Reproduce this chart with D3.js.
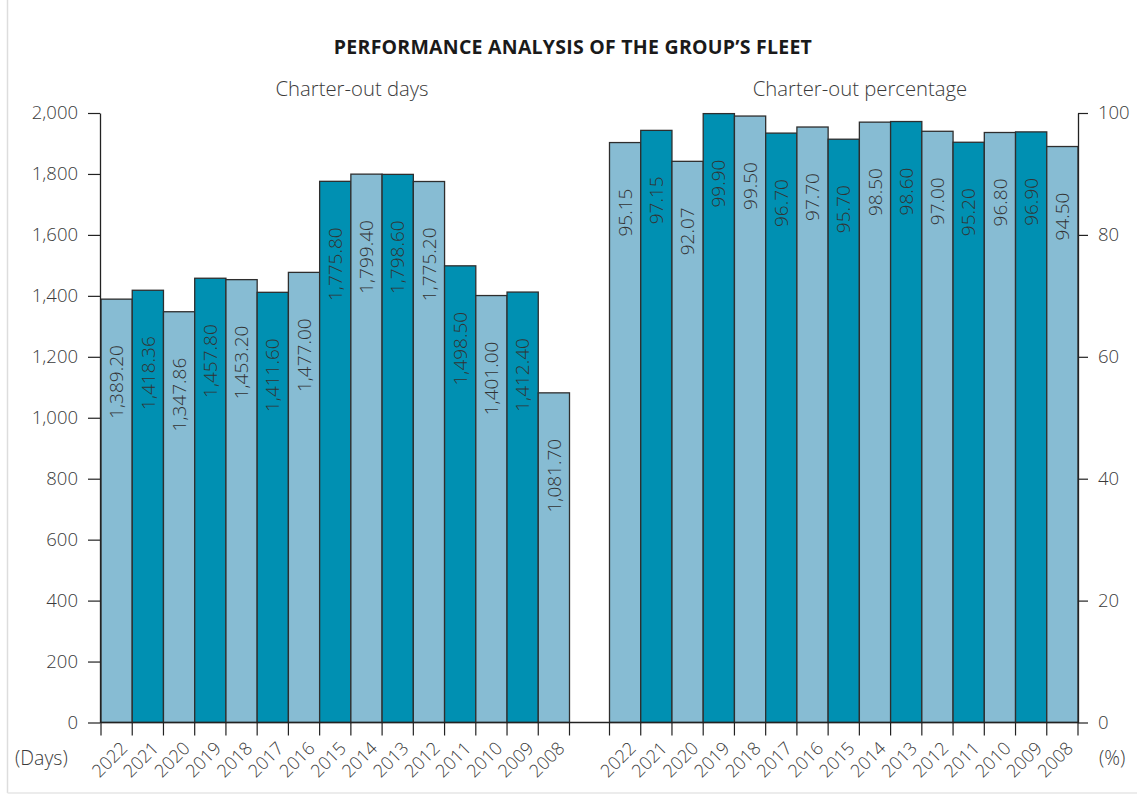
<!DOCTYPE html>
<html>
<head>
<meta charset="utf-8">
<script src="https://cdn.jsdelivr.net/npm/d3@7"></script>
<style>
  html, body { margin: 0; padding: 0; background: #ffffff; }
  svg { display: block; }
  text { font-family: "Open Sans", "Noto Sans", sans-serif; fill: #3a3a3a; }
</style>
</head>
<body>
<svg id="chart" width="1137" height="795"></svg>
<script>
// ---- Data ----
const years = ["2022","2021","2020","2019","2018","2017","2016","2015","2014","2013","2012","2011","2010","2009","2008"];
const charterDays = [1389.20, 1418.36, 1347.86, 1457.80, 1453.20, 1411.60, 1477.00, 1775.80, 1799.40, 1798.60, 1775.20, 1498.50, 1401.00, 1412.40, 1081.70];
const charterPct = [95.15, 97.15, 92.07, 99.90, 99.50, 96.70, 97.70, 95.70, 98.50, 98.60, 97.00, 95.20, 96.80, 96.90, 94.50];
const daysTicks = [0, 200, 400, 600, 800, 1000, 1200, 1400, 1600, 1800, 2000];
const pctTicks = [0, 20, 40, 60, 80, 100];
const titleText = "PERFORMANCE ANALYSIS OF THE GROUP\u2019S FLEET";
const leftTitle = "Charter-out days";
const rightTitle = "Charter-out percentage";
const leftUnit = "(Days)";
const rightUnit = "(%)";

// ---- Layout ----
const svg = d3.select("#chart");
const y0 = 722.5, y1 = 113;
const leftX = [101, 569.5], rightX = [609.5, 1078];
const lightCol = "#87bcd3", darkCol = "#0090b2", strokeCol = "#2e2e2e";

// frame lines
svg.append("line").attr("x1", 7.5).attr("x2", 7.5).attr("y1", 0).attr("y2", 793)
  .attr("stroke", "#dddddd").attr("stroke-width", 1.5);
svg.append("line").attr("x1", 7.5).attr("x2", 1137).attr("y1", 793).attr("y2", 793)
  .attr("stroke", "#e6e6e6").attr("stroke-width", 1.5);

const yDays = d3.scaleLinear().domain([0, 2000]).range([y0, y1]);
const yPct = d3.scaleLinear().domain([0, 100]).range([y0, y1]);
const xL = d3.scaleBand().domain(years).range(leftX).padding(0);
const xR = d3.scaleBand().domain(years).range(rightX).padding(0);

// titles
svg.append("text").attr("x", 573).attr("y", 54).attr("text-anchor", "middle")
  .style("font-size", "19.5px").style("font-weight", 700).style("fill", "#1a1a1a")
  .style("letter-spacing", "0.25px")
  .text(titleText);
svg.append("text").attr("x", 352).attr("y", 96).attr("text-anchor", "middle")
  .style("font-size", "20.3px").style("font-weight", 300).text(leftTitle);
svg.append("text").attr("x", 860).attr("y", 96).attr("text-anchor", "middle")
  .style("font-size", "20.3px").style("font-weight", 300).text(rightTitle);

function drawBars(xs, ys, values, fmt) {
  const g = svg.append("g");
  g.selectAll("rect").data(values).join("rect")
    .attr("x", (d, i) => xs(years[i]))
    .attr("y", d => ys(d))
    .attr("width", xs.bandwidth())
    .attr("height", d => ys(0) - ys(d))
    .attr("fill", (d, i) => i % 2 === 0 ? lightCol : darkCol)
    .attr("stroke", strokeCol).attr("stroke-width", 1.3);
  g.selectAll("text").data(values).join("text")
    .attr("transform", (d, i) => `translate(${xs(years[i]) + xs.bandwidth() / 2},${ys(d) + 46}) rotate(-90)`)
    .attr("text-anchor", "end").attr("dy", "0.35em")
    .style("font-size", "19px").style("font-weight", 300).style("fill", "#333")
    .text(d => fmt(d));
  // x ticks at band boundaries
  const bounds = years.map(y => xs(y)).concat([xs(years[years.length - 1]) + xs.bandwidth()]);
  g.selectAll("line.xt").data(bounds).join("line").attr("class", "xt")
    .attr("x1", d => d).attr("x2", d => d).attr("y1", y0).attr("y2", y0 + 13)
    .attr("stroke", "#222").attr("stroke-width", 1.2);
  // x labels
  g.selectAll("text.xl").data(years).join("text").attr("class", "xl")
    .attr("transform", d => `translate(${xs(d) + xs.bandwidth() / 2 + 12},${y0 + 27}) rotate(-45)`)
    .attr("text-anchor", "end")
    .style("font-size", "18px").style("font-weight", 300)
    .text(d => d);
}

drawBars(xL, yDays, charterDays, d3.format(",.2f"));
drawBars(xR, yPct, charterPct, d3.format(".2f"));

// baseline across both panels
svg.append("line").attr("x1", 100).attr("x2", 1078).attr("y1", y0).attr("y2", y0)
  .attr("stroke", "#222").attr("stroke-width", 1.3);

// left axis
const axL = svg.append("g").attr("transform", "translate(100,0)")
  .call(d3.axisLeft(yDays).tickValues(daysTicks).tickFormat(d3.format(",")).tickSize(12).tickSizeOuter(0).tickPadding(10));
axL.select(".domain").attr("stroke", "#222").attr("stroke-width", 1.3);
axL.selectAll(".tick line").attr("stroke", "#222").attr("stroke-width", 1.2);
axL.selectAll(".tick text").style("font-size", "18.5px").style("font-weight", 300)
  .style("font-family", "'Open Sans', sans-serif").attr("fill", "#3a3a3a");

// right axis
const axR = svg.append("g").attr("transform", "translate(1078,0)")
  .call(d3.axisRight(yPct).tickValues(pctTicks).tickSize(10).tickSizeOuter(0).tickPadding(10));
axR.select(".domain").attr("stroke", "#222").attr("stroke-width", 1.3);
axR.selectAll(".tick line").attr("stroke", "#222").attr("stroke-width", 1.2);
axR.selectAll(".tick text").style("font-size", "18.5px").style("font-weight", 300)
  .style("font-family", "'Open Sans', sans-serif").attr("fill", "#3a3a3a");

// unit labels
svg.append("text").attr("x", 15).attr("y", 765)
  .style("font-size", "19.5px").style("font-weight", 300).text(leftUnit);
svg.append("text").attr("x", 1099).attr("y", 765)
  .style("font-size", "19.5px").style("font-weight", 300).text(rightUnit);
</script>
</body>
</html>
